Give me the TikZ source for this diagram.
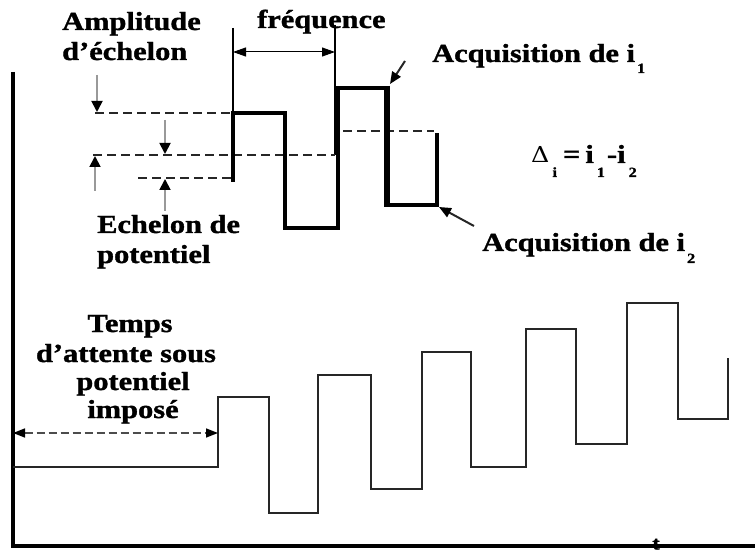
\documentclass[tikz,border=0pt]{standalone}
\usepackage{fontspec}
\setmainfont[FakeStretch=1.17, BoldFeatures={FakeBold=1.3}]{Liberation Serif}
\usetikzlibrary{arrows.meta}

\tikzset{
  lbl/.style={inner sep=0pt, font=\bfseries\fontsize{26}{30}\selectfont},
  axisline/.style={line width=3.5pt, black},
  wave/.style={line width=3.2pt, black, line join=miter},
  heavy/.style={line width=5.5pt, black},
  ramp/.style={line width=2.4pt, black!85, line join=miter},
  guide/.style={line width=1.4pt, black},
  level/.style={line width=2.2pt, black!85, dash pattern=on 9pt off 5pt},
  dimarrow/.style={line width=1.8pt, black!40, -{Triangle[length=11pt,width=11pt,color=black]}},
  freqarrow/.style={line width=1pt, black, {Triangle[length=13pt,width=9pt]}-{Triangle[length=13pt,width=9pt]}},
  waitarrow/.style={line width=1.6pt, black!70, dash pattern=on 8pt off 4pt,
    {Triangle[length=12pt,width=9pt,color=black]}-{Triangle[length=12pt,width=9pt,color=black]}},
  pointer/.style={line width=2pt, black!85, -{Triangle[length=12pt,width=10pt,color=black]}},
}
\newcommand{\lowsub}[2]{\raisebox{-#2pt}{\fontsize{14}{14}\selectfont #1}}

\begin{document}
\begin{tikzpicture}[x=1pt, y=-1pt]
\useasboundingbox (0,0) rectangle (755,553);

% axes
\coordinate (ytop) at (13,72);
\coordinate (orig) at (13,546);
\coordinate (xend) at (755,546);
\draw[axisline] (ytop) -- (orig) -- (xend);
\node[inner sep=0pt, anchor=base, font=\bfseries\fontsize{19}{19}\selectfont] (tlab) at (656,549.5) {t};

% staircase of the full scan
\draw[ramp] (13,467) -- (218,467) -- (218,397) -- (269,397) -- (269,513)
  -- (318,513) -- (318,375) -- (371,375) -- (371,489) -- (422,489)
  -- (422,352) -- (471,352) -- (471,467) -- (526,467) -- (526,329)
  -- (576,329) -- (576,444) -- (627,444) -- (627,303) -- (678,303)
  -- (678,419) -- (728,419) -- (728,358);

% waiting time arrow
\coordinate (w1) at (13,433);
\coordinate (w2) at (218,433);
\draw[waitarrow] (w1) -- (w2);
\node[lbl] (temps1) at (130,332) [anchor=base] {Temps};
\node[lbl] (temps2) at (126,362) [anchor=base] {d’attente sous};
\node[lbl] (temps3) at (133,390) [anchor=base] {potentiel};
\node[lbl] (temps4) at (133,418) [anchor=base] {imposé};

% detail of one pulse cycle
\draw[guide] (233,28) -- (233,113);
\draw[guide] (335,25) -- (335,155);
\coordinate (f1) at (233,52);
\coordinate (f2) at (335,52);
\draw[freqarrow] (f1) -- (f2);

\draw[level] (95,113) -- (233,113);
\draw[level] (93,155) -- (335,155);
\draw[level] (138,178) -- (231,178);
\draw[level] (343,131) -- (434,131);

\draw[wave] (233,182) -- (233,113) -- (285,113) -- (285,228) -- (338,228)
  -- (338,88) -- (387,88);
\draw[heavy] (387,86) -- (387,207);
\draw[line width=4.2pt, line join=miter] (387,205) -- (437,205) -- (437,133);

% amplitude and step markers
\draw[dimarrow] (97,75) -- (97,112);
\draw[dimarrow] (95,191) -- (95,156);
\draw[dimarrow] (165,120) -- (165,154);
\draw[dimarrow] (165,211) -- (165,179);

% current sampling pointers
\coordinate (p1s) at (405,61);
\coordinate (p1e) at (390,84);
\draw[pointer] (p1s) -- (p1e);
\coordinate (p2s) at (474,226);
\coordinate (p2e) at (439,207);
\draw[pointer] (p2s) -- (p2e);

% labels
\node[lbl] (amp1) at (62,30) [anchor=base west] {Amplitude};
\node[lbl] (amp2) at (62,60) [anchor=base west] {d’échelon};
\node[lbl] (freq) at (257,28) [anchor=base west] {fréquence};
\node[lbl] (acq1) at (432,62) [anchor=base west] {Acquisition de i\hspace{2pt}\lowsub{1}{11}};
\node[lbl] (acq2) at (482,251) [anchor=base west] {Acquisition de i\hspace{2pt}\lowsub{2}{12}};
\node[lbl] (ech1) at (97,233) [anchor=base west] {Echelon de};
\node[lbl] (ech2) at (97,263) [anchor=base west] {potentiel};
\node[lbl] (delta) at (531,163) [anchor=base west]
  {{\fontspec{DejaVu Serif}[FakeStretch=1.15]\mdseries\fontsize{22}{22}\selectfont Δ}\hspace{3pt}\lowsub{i}{14}\hspace{6pt}=\hspace{5pt}i\hspace{3pt}\lowsub{1}{14}\hspace{2pt}-i\hspace{3pt}\lowsub{2}{14}};
\end{tikzpicture}
\end{document}
